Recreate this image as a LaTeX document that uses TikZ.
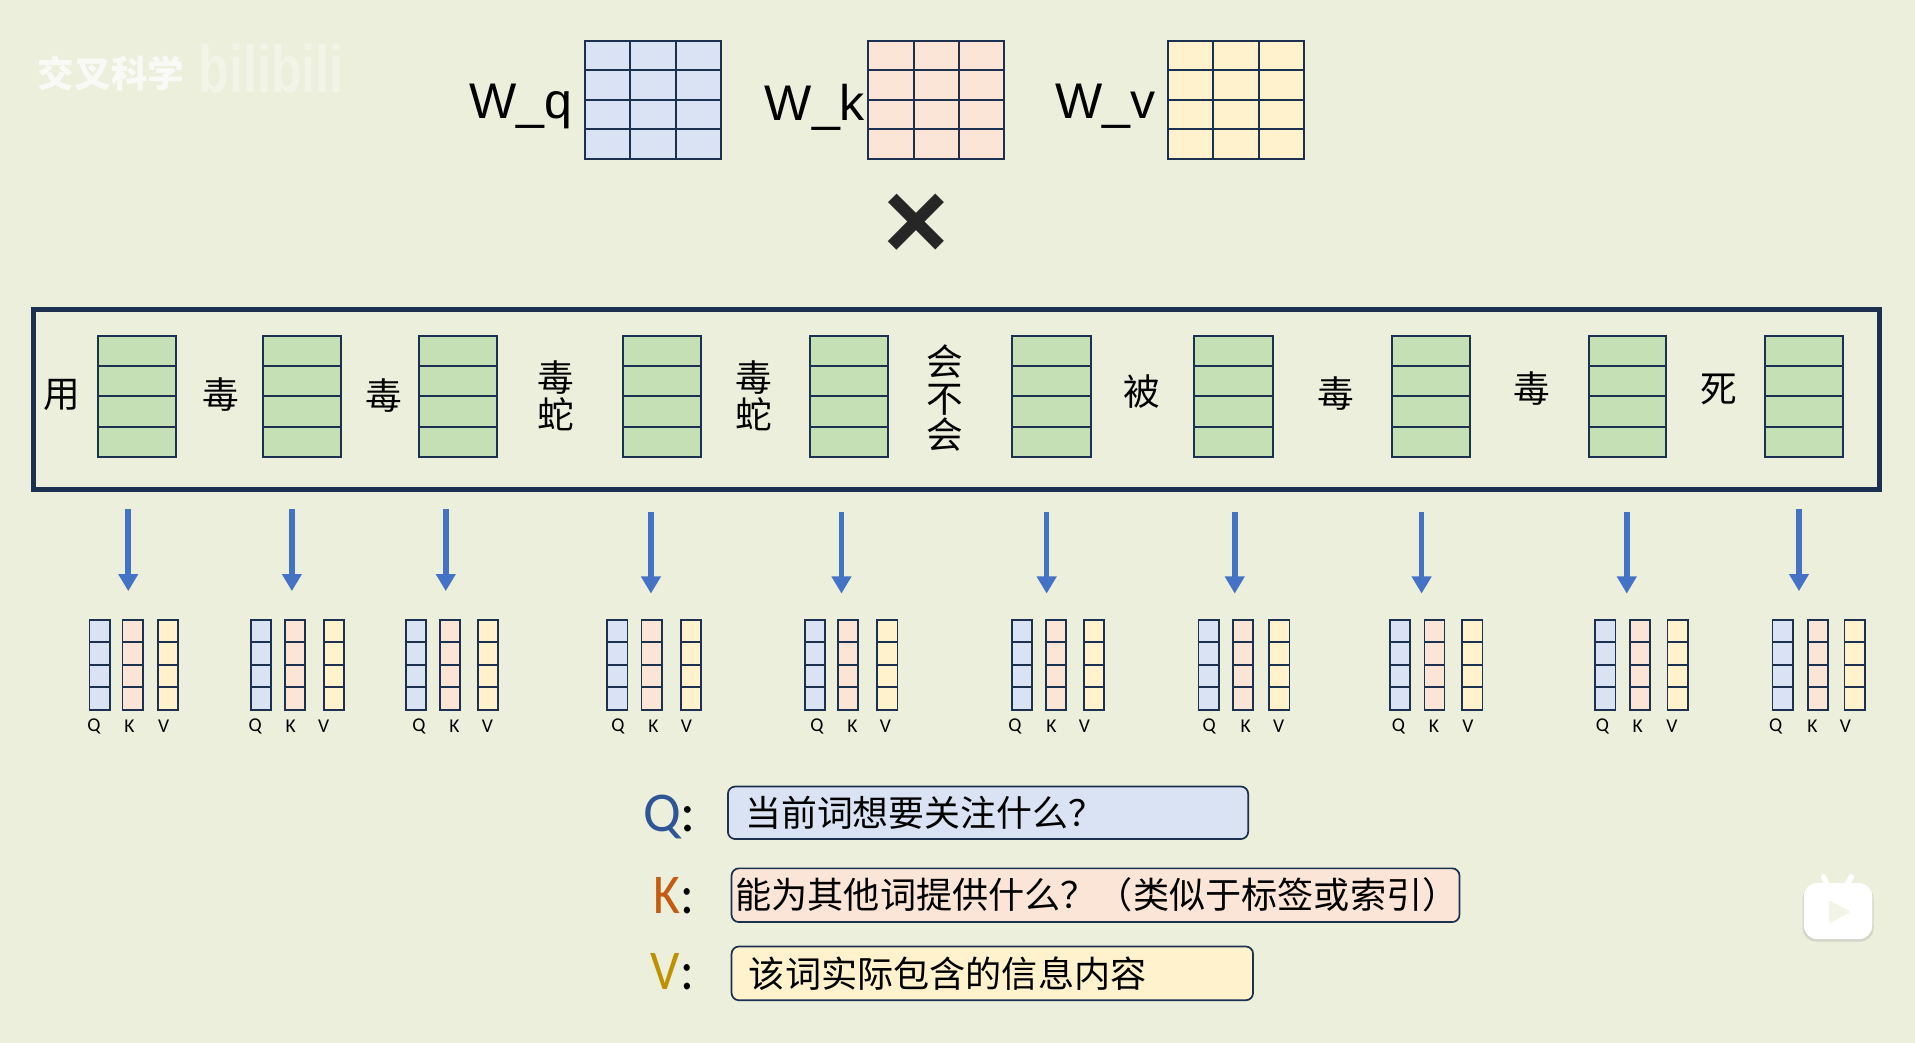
\documentclass[tikz,border=0pt]{standalone}
\usepackage{fontspec}
\setmainfont{Liberation Sans}
\newfontfamily\cjk{Noto Sans CJK SC}
\newfontfamily\calfont{Carlito}
\usetikzlibrary{calc,arrows.meta}
\definecolor{bgc}{HTML}{EBEFDB}
\definecolor{navy}{HTML}{1C3050}
\definecolor{qfill}{HTML}{D9E3F3}
\definecolor{kfill}{HTML}{FBE5D6}
\definecolor{vfill}{HTML}{FFF2CC}
\definecolor{gfill}{HTML}{C5E0B4}
\definecolor{arrowc}{HTML}{4472C4}
\definecolor{qc}{HTML}{2F5597}
\definecolor{kc}{HTML}{C55A11}
\definecolor{vc}{HTML}{BF9000}
\newcommand\fs[1]{\fontsize{#1}{#1}\selectfont}
\tikzset{
  cellbox/.style={draw=navy,inner sep=0pt,outer sep=0pt},
  wordlabel/.style={font=\cjk\fs{30},align=center,inner sep=0pt,text=black},
  smalllabel/.style={font=\calfont\fs{16},inner sep=0pt,text=black},
  flow/.style={draw=arrowc,line width=4.6pt,-{Triangle[length=14pt,width=15.5pt]},shorten >=0pt},
  defbox/.style={draw=navy,line width=1.4pt,rounded corners=6pt,inner sep=0pt,outer sep=0pt},
  deftext/.style={anchor=west,inner sep=0pt,text=black},
  keylabel/.style={font=\calfont\fs{46},inner sep=0pt,anchor=base east},
  wlabel/.style={font=\fs{41},anchor=base west,inner sep=0pt,text=black},
}
% name, x1, y1, x2, y2, columns, fill, line width
\newcommand\gridbox[8]{%
  \node[cellbox,line width=#8,fill=#7,minimum width={((#4)-(#2))*1pt},minimum height={((#5)-(#3))*1pt}] (#1) at ({((#2)+(#4))/2},{((#3)+(#5))/2}) {};
  \foreach \i in {1,...,#6}{%
    \ifnum\i<#6\relax
      \pgfmathsetmacro\myt{\i/#6}
      \draw[navy,line width=#8] ($(#1.north west)!\myt!(#1.north east)$) -- ($(#1.south west)!\myt!(#1.south east)$);
    \fi}
  \foreach \i in {1,2,3}{%
    \pgfmathsetmacro\myt{\i/4}
    \draw[navy,line width=#8] ($(#1.north west)!\myt!(#1.south west)$) -- ($(#1.north east)!\myt!(#1.south east)$);}
}
\begin{document}
\begin{tikzpicture}[x=1pt,y=-1pt]
\useasboundingbox (0,0) rectangle (1568,854);
\fill[bgc] (0,0) rectangle (1568,854);

% watermark
\node[font=\cjk\bfseries\fs{30},text=white,opacity=.75,inner sep=0pt] (wmark) at (91,60) {交叉科学};
\node[font=\bfseries\fs{50},text=white,opacity=.35,inner sep=0pt,xscale=.82,yscale=1.1] (wlogo) at (222,56) {bilibili};

% weight matrices
\node[wlabel] (wq) at (384,97) {W\_q};
\node[wlabel] (wk) at (626,99) {W\_k};
\node[wlabel] (wv) at (864,97) {W\_v};
\gridbox{mq}{479}{33.5}{590.5}{130}{3}{qfill}{1.6pt}
\gridbox{mk}{711}{33.5}{822}{130}{3}{kfill}{1.6pt}
\gridbox{mv}{956}{33.5}{1068}{130}{3}{vfill}{1.6pt}

% multiplication sign
\node[font=\bfseries\fs{92},text=black!85,inner sep=0pt] (times) at (750,185.5) {×};

% sentence frame
\node[draw=navy,line width=3.7pt,minimum width=1511.5pt,minimum height=147.5pt,inner sep=0pt] (frame) at (783.2,327) {};

% word embeddings
\foreach \n/\a/\b in {1/80/144,2/215/279,3/343/407,4/510/574,5/663/727,6/829/893,7/978/1042,8/1140/1204,9/1301/1364,10/1445/1509}{
  \gridbox{e\n}{\a}{275}{\b}{374}{1}{gfill}{1.6pt}
}
\node[wordlabel] (t1) at (51,323) {用};
\node[wordlabel] (t2) at (181,323) {毒};
\node[wordlabel] (t3) at (314,324) {毒};
\node[wordlabel] (t4) at (455,324) {毒\\[0pt]蛇};
\node[wordlabel] (t5) at (617,324) {毒\\[0pt]蛇};
\node[wordlabel] (t6) at (774,326) {会\\[0pt]不\\[0pt]会};
\node[wordlabel] (t7) at (935,321) {被};
\node[wordlabel] (t8) at (1094,322) {毒};
\node[wordlabel] (t9) at (1254,318) {毒};
\node[wordlabel] (t10) at (1407,319) {死};

% arrows
\foreach \n/\x/\s in {1/105/417,2/239/417,3/365/417,4/533/419,5/689/419,6/857/419,7/1011/419,8/1164/419,9/1332/419,10/1473/417}{
  \coordinate (as\n) at (\x,\s);
  \coordinate (ae\n) at (\x,\s+67);
  \draw[flow] (as\n) -- (ae\n);
}

% Q K V vectors
\foreach \n/\q/\k/\v/\lq/\lk/\lv in {
  1/73/100/129/77/106/134,
  2/205/233/265/209/238/265,
  3/332/360/391/343/372/399,
  4/497/525/557/506/535/562,
  5/659/686/718/669/698/725,
  6/828/856/887/831/861/888,
  7/981/1009/1039/990/1020/1047,
  8/1138/1166/1197/1145/1174/1202,
  9/1306/1334/1365/1312/1341/1369,
  10/1451/1480/1510/1454/1484/1511}{
  \gridbox{q\n}{\q+.3}{507.5}{\q+16.8}{581}{1}{qfill}{1.5pt}
  \gridbox{k\n}{\k+.3}{507.5}{\k+16.8}{581}{1}{kfill}{1.5pt}
  \gridbox{v\n}{\v+.3}{507.5}{\v+16.8}{581}{1}{vfill}{1.5pt}
  \node[smalllabel] (lq\n) at (\lq,595) {Q};
  \node[smalllabel] (lk\n) at (\lk,595) {K};
  \node[smalllabel] (lv\n) at (\lv,595) {V};
}

% definitions
\node[keylabel] (kq) at (570,681) {\textcolor{qc}{Q}\textcolor{black}{:}};
\node[keylabel,xscale=.92] (kk) at (568.5,748) {\textcolor{kc}{K}\textcolor{black}{:}};
\node[keylabel,xscale=.92] (kv) at (568.5,810) {\textcolor{vc}{V}\textcolor{black}{:}};

\node[defbox,fill=qfill,minimum width=426pt,minimum height=43pt] (bq) at (809,665.5) {};
\node[defbox,fill=kfill,minimum width=596pt,minimum height=44pt] (bk) at (897,733) {};
\node[defbox,fill=vfill,minimum width=427pt,minimum height=44pt] (bv) at (812.5,797) {};
\node[deftext,font=\cjk\fs{29.4}] (tq) at (610,665.5) {当前词想要关注什么？};
\node[deftext,font=\cjk\fs{29.6}] (tk) at (602,733) {能为其他词提供什么？（类似于标签或索引）};
\node[deftext,font=\cjk\fs{29.6}] (tv) at (613,797) {该词实际包含的信息内容};

% player badge
\fill[black!35,opacity=.35,rounded corners=11pt] (1476,725) rectangle (1534,771);
\draw[white,line width=4.5pt,line cap=round] (1496,724) -- (1493,718);
\draw[white,line width=4.5pt,line cap=round] (1512.5,724) -- (1516,718);
\fill[white,rounded corners=11pt] (1477,723) rectangle (1533,769);
\fill[bgc!70!white,rounded corners=2pt] (1497.5,737) -- (1515.5,746.5) -- (1497.5,756.5) -- cycle;
\end{tikzpicture}
\end{document}
